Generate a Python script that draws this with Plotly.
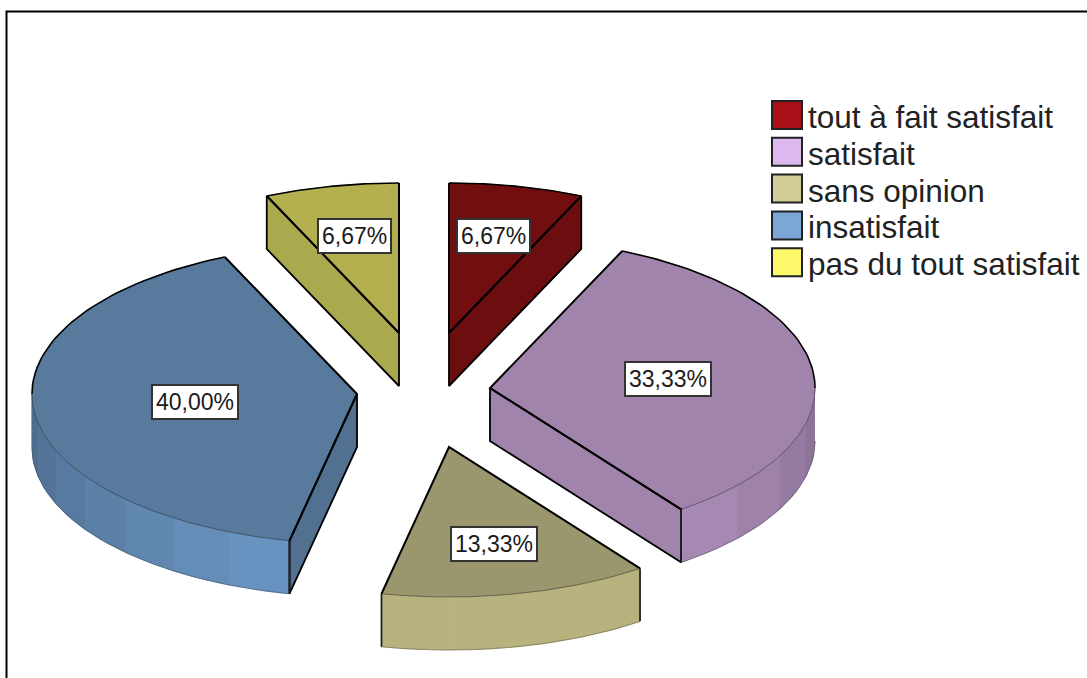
import numpy as np
import plotly.graph_objects as go

# Survey answers and their shares, in percent
categories = ["tout à fait satisfait", "satisfait", "sans opinion", "insatisfait", "pas du tout satisfait"]
shares = [6.67, 33.33, 13.33, 40.00, 6.67]

# Colours per answer
swatch_colors = ["#a61016", "#dcb8ee", "#d2cc96", "#7ba6d6", "#fdf96a"]
top_colors = ["#720e10", "#a084ac", "#9a966e", "#587a9c", "#b5b04f"]
wall_colors = ["#6c0d0f", "#a084ac", "#9a966e", "#52708f", "#aba94d"]
rim_colors = ["#6c0d0f", "#ae90bc", "#b8b27f", "#6a95c2", "#aba94d"]

# Pie geometry on a pixel-sized axis
CX, CY = 424, 387
RX, RY = 325, 150
DEPTH = 53
EXPLODE = [(25, -54), (66, 1), (25, 60), (-67, 7), (-25, -54)]
LABEL_RADIUS = [0.66, 0.55, 0.66, 0.50, 0.66]
DRAW_ORDER = [0, 4, 1, 3, 2]
FONT = "Liberation Sans"

fig = go.Figure()


def rim_point(ox, oy, deg):
    t = np.radians(deg)
    return ox + RX * np.sin(t), oy - RY * np.cos(t)


def add_poly(xs, ys, color, edge=0.5):
    fig.add_trace(go.Scatter(x=list(xs), y=list(ys), mode="lines", fill="toself", fillcolor=color,
                             line=dict(color=color, width=edge), hoverinfo="skip", showlegend=False))


def add_line(xs, ys, color="black", width=2.0):
    fig.add_trace(go.Scatter(x=list(xs), y=list(ys), mode="lines", line=dict(color=color, width=width),
                             hoverinfo="skip", showlegend=False))


def shade(hex_color, factor):
    r, g, b = (int(hex_color[i:i + 2], 16) for i in (1, 3, 5))
    return f"rgb({int(r * factor)},{int(g * factor)},{int(b * factor)})"


def rim_light(deg):
    # Brightest around the lower left of the pie, dimmer towards both sides
    return 1 - 0.0035 * max(0, 150 - deg) - 0.0037 * max(0, deg - 195)


# Slice limits clockwise from twelve o'clock
edges = np.concatenate([[0], np.cumsum(shares)]) * 360 / sum(shares)

for i in DRAW_ORDER:
    a0, a1 = edges[i], edges[i + 1]
    ox, oy = CX + EXPLODE[i][0], CY + EXPLODE[i][1]

    # Outer rim, split in facets whose brightness follows the angle
    lo, hi = max(a0, 90), min(a1, 270)
    if hi > lo:
        facets = np.linspace(lo, hi, max(2, int((hi - lo) / 11) + 1))
        for f0, f1 in zip(facets[:-1], facets[1:]):
            arc = np.linspace(f0, f1, 6)
            ax, ay = rim_point(ox, oy, arc)
            add_poly(np.r_[ax, ax[::-1]], np.r_[ay, ay[::-1] + DEPTH], shade(rim_colors[i], rim_light((f0 + f1) / 2)), 1.2)
        arc = np.linspace(lo, hi, 60)
        ax, ay = rim_point(ox, oy, arc)
        add_line(ax, ay + DEPTH, "rgba(60,60,60,0.45)", 0.8)

    # Top face
    arc = np.linspace(a0, a1, max(8, int(a1 - a0)))
    ax, ay = rim_point(ox, oy, arc)
    add_poly(np.r_[ox, ax, ox], np.r_[oy, ay, oy], top_colors[i])

    # Arc edge of the top face: solid at the back, faint at the front
    if hi > lo:
        front = np.linspace(lo, hi, 60)
        fx, fy = rim_point(ox, oy, front)
        add_line(fx, fy, "rgba(40,40,40,0.55)", 0.9)
    for s0, s1 in ((a0, min(a1, 90)), (max(a0, 270), a1)):
        if s1 > s0:
            back = np.linspace(s0, s1, 40)
            bx, by = rim_point(ox, oy, back)
            add_line(bx, by, "black", 1.6)

    # Cut walls turned towards the viewer
    for deg, visible in ((a0, np.sin(np.radians(a0)) < -1e-6), (a1, np.sin(np.radians(a1)) > 1e-6)):
        if visible:
            ex, ey = rim_point(ox, oy, deg)
            wx = [ox, ex, ex, ox, ox]
            wy = [oy, ey, ey + DEPTH, oy + DEPTH, oy]
            add_poly(wx, wy, wall_colors[i])
            add_line(wx, wy, "black", 1.8)

    # Straight edges of the top face
    sx, sy = rim_point(ox, oy, a0)
    ex, ey = rim_point(ox, oy, a1)
    add_line([sx, ox, ex], [sy, oy, ey], "black", 2.0)

    # Vertical end of the rim where it shows without a wall
    for deg in (a0, a1):
        if 90 < deg < 270:
            vx, vy = rim_point(ox, oy, deg)
            add_line([vx, vx], [vy, vy + DEPTH], "#222222", 1.8)

# Percentage labels on each slice
for i, value in enumerate(shares):
    mid = (edges[i] + edges[i + 1]) / 2
    t = np.radians(mid)
    fig.add_annotation(
        x=CX + EXPLODE[i][0] + LABEL_RADIUS[i] * RX * np.sin(t),
        y=CY + EXPLODE[i][1] - LABEL_RADIUS[i] * RY * np.cos(t),
        text=f"{value:.2f}".replace(".", ",") + "%",
        showarrow=False, xanchor="center", yanchor="middle",
        bgcolor="white", bordercolor="#333333", borderwidth=2, borderpad=3,
        font=dict(family=FONT, size=23, color="#1a1a1a"),
    )

# Legend: one square and one line of text per answer
LEG_X, LEG_Y, LEG_STEP = 787, 115, 36.8
for i, name in enumerate(categories):
    y = LEG_Y + i * LEG_STEP
    fig.add_shape(type="rect", x0=LEG_X - 15, x1=LEG_X + 15, y0=y - 14, y1=y + 14,
                  fillcolor=swatch_colors[i], line=dict(color="#222222", width=2))
    fig.add_annotation(x=LEG_X + 19, y=y + 2, text=name, showarrow=False, xanchor="left", yanchor="middle",
                       font=dict(family=FONT, size=31.5, color="#222222"))

# Frame around the chart, open past the right and bottom of the page
fig.add_shape(type="path", path="M 6.5 678 L 6.5 11.5 L 1087 11.5", line=dict(color="black", width=2))

fig.update_layout(
    width=1087, height=678, autosize=False,
    margin=dict(l=0, r=0, t=0, b=0),
    paper_bgcolor="white", plot_bgcolor="white", showlegend=False,
    xaxis=dict(range=[0, 1087], visible=False, fixedrange=True),
    yaxis=dict(range=[678, 0], visible=False, fixedrange=True),
)

fig.write_html("out.html")
